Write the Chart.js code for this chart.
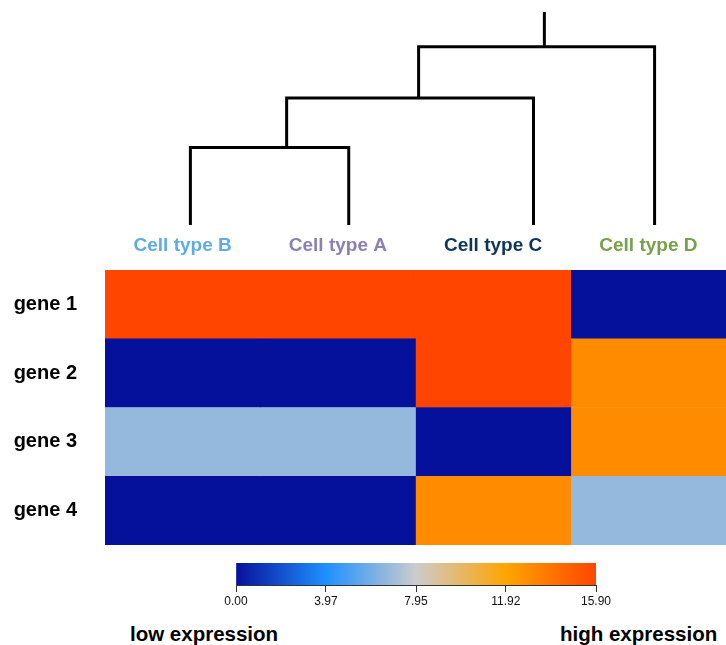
<!DOCTYPE html>
<html>
<head>
<meta charset="utf-8">
<script src="https://cdn.jsdelivr.net/npm/chart.js@4"></script>
<style>
  body { margin: 0; background: #fff; width: 726px; height: 645px; position: relative; overflow: hidden; }
  canvas { position: absolute; }
  .legendText { position: absolute; font: bold 20.5px "Liberation Sans", Arial, sans-serif; color: #000; white-space: nowrap; }
</style>
</head>
<body>
<canvas id="dendro" width="621" height="232" style="left:105px; top:0px;"></canvas>
<canvas id="heat" width="726" height="320" style="left:0px; top:230px;"></canvas>
<canvas id="cbar" width="726" height="60" style="left:0px; top:555px;"></canvas>
<div class="legendText" style="left:130px; top:622px;">low expression</div>
<div class="legendText" style="left:560px; top:622px;">high expression</div>

<script>
// data
const genes = ['gene 1', 'gene 2', 'gene 3', 'gene 4'];
const cellTypes = ['Cell type B', 'Cell type A', 'Cell type C', 'Cell type D'];
const exprB = [15.9, 0, 6.7, 0];
const exprA = [15.9, 0, 6.7, 0];
const exprC = [15.9, 15.9, 0, 13.0];
const exprD = [0, 13.0, 13.0, 6.7];
const colorbarTicks = [0.00, 3.97, 7.95, 11.92, 15.90];
const exprMax = 15.9;

// dendrogram (x in column units, height in merge distance)
const leafX = [0.55, 1.57, 2.76, 3.54];
const mergeX = [1.17, 2.02, 2.83];
const mergeHeight = [1.0, 1.64, 2.30];
const mergeLeft = ['L0', 'M0', 'M1'];
const mergeRight = ['L1', 'L2', 'L3'];
const rootTop = 2.75;

const FONT = '"Liberation Sans", Arial, sans-serif';
const labelColors = ['#5fabe8', '#8a80b2', '#0d3459', '#77a04b'];
const cmapStops = [[0, '#06119b'], [0.25, '#1e90ff'], [0.5, '#cccccc'], [0.75, '#ffa500'], [1, '#ff4500']];

function hexRgb(h) {
  return [parseInt(h.slice(1, 3), 16), parseInt(h.slice(3, 5), 16), parseInt(h.slice(5, 7), 16)];
}

function colorFor(v) {
  const t = Math.max(0, Math.min(1, v / exprMax));
  for (let i = 1; i < cmapStops.length; i++) {
    if (t <= cmapStops[i][0]) {
      const [t0, c0] = cmapStops[i - 1];
      const [t1, c1] = cmapStops[i];
      const f = (t - t0) / (t1 - t0);
      const a = hexRgb(c0), b = hexRgb(c1);
      return 'rgb(' + a.map((x, k) => Math.round(x + (b[k] - x) * f)).join(',') + ')';
    }
  }
  return cmapStops[cmapStops.length - 1][1];
}

// --- dendrogram ---
function nodeAt(id) {
  const i = +id.slice(1);
  return id[0] === 'L' ? {x: leafX[i], y: 0} : {x: mergeX[i], y: mergeHeight[i]};
}

const dendroSets = mergeX.map((mx, i) => {
  const l = nodeAt(mergeLeft[i]), r = nodeAt(mergeRight[i]);
  return {
    data: [l, {x: l.x, y: mergeHeight[i]}, {x: r.x, y: mergeHeight[i]}, r]
  };
});
const last = mergeX.length - 1;
dendroSets.push({data: [{x: mergeX[last], y: mergeHeight[last]}, {x: mergeX[last], y: rootTop}]});
dendroSets.forEach(d => Object.assign(d, {
  showLine: true, borderColor: '#000', borderWidth: 3, pointRadius: 0,
  borderJoinStyle: 'miter', borderCapStyle: 'butt', clip: false
}));

new Chart(document.getElementById('dendro'), {
  type: 'scatter',
  data: {datasets: dendroSets},
  options: {
    responsive: false, animation: false, events: [],
    layout: {padding: {top: 12, bottom: 7, left: 0, right: 0}},
    plugins: {legend: {display: false}, tooltip: {enabled: false}},
    scales: {
      x: {type: 'linear', min: 0, max: 4, display: false},
      y: {type: 'linear', min: 0, max: rootTop, display: false}
    }
  }
});

// --- heatmap ---
const columns = [exprB, exprA, exprC, exprD];
new Chart(document.getElementById('heat'), {
  type: 'bar',
  data: {
    labels: genes,
    datasets: columns.map((vals, i) => ({
      label: cellTypes[i],
      data: vals.map(() => 1),
      backgroundColor: vals.map(colorFor),
      borderWidth: 0,
      barPercentage: 1,
      categoryPercentage: 1
    }))
  },
  options: {
    indexAxis: 'y',
    responsive: false, animation: false, events: [],
    layout: {padding: {top: 0, bottom: 5, left: 0, right: 0}},
    plugins: {legend: {display: false}, tooltip: {enabled: false}},
    scales: {
      x: {
        type: 'linear', position: 'top', stacked: true, min: 0, max: 4,
        grid: {display: false, drawTicks: false}, border: {display: false},
        afterBuildTicks: s => { s.ticks = cellTypes.map((_, i) => ({value: i + 0.5})); },
        afterFit: s => { s.height = 40; s.paddingLeft = 0; s.paddingRight = 0; },
        ticks: {
          autoSkip: false, maxRotation: 0, padding: 13,
          callback: (v, i) => cellTypes[i],
          color: c => labelColors[c.index],
          font: {family: FONT, size: 19, weight: 'bold'}
        }
      },
      y: {
        stacked: true,
        grid: {display: false, drawTicks: false}, border: {display: false},
        afterFit: s => { s.width = 105; s.paddingTop = 0; s.paddingBottom = 0; },
        ticks: {
          padding: 28, color: '#000',
          font: {family: FONT, size: 20, weight: 'bold'}
        }
      }
    }
  }
});

// --- colour bar ---
new Chart(document.getElementById('cbar'), {
  type: 'bar',
  data: {
    labels: ['scale'],
    datasets: [{
      data: [[0, exprMax]],
      borderWidth: 0,
      barPercentage: 1,
      categoryPercentage: 1,
      backgroundColor: c => {
        const area = c.chart.chartArea;
        if (!area) return cmapStops[0][1];
        const g = c.chart.ctx.createLinearGradient(area.left, 0, area.right, 0);
        cmapStops.forEach(([t, col]) => g.addColorStop(t, col));
        return g;
      }
    }]
  },
  options: {
    indexAxis: 'y',
    responsive: false, animation: false, events: [],
    layout: {padding: {top: 8, bottom: 0, left: 236, right: 130}},
    plugins: {legend: {display: false}, tooltip: {enabled: false}},
    scales: {
      x: {
        type: 'linear', min: 0, max: exprMax,
        afterBuildTicks: s => { s.ticks = colorbarTicks.map(v => ({value: v})); },
        afterFit: s => { s.height = 30; },
        grid: {drawOnChartArea: false, drawTicks: true, tickLength: 7, color: '#333', lineWidth: 1},
        border: {display: true, color: '#333', width: 1},
        ticks: {
          autoSkip: false, maxRotation: 0, padding: 2, color: '#111',
          callback: v => v.toFixed(2),
          font: {family: FONT, size: 12}
        }
      },
      y: {display: false}
    }
  }
});
</script>
</body>
</html>
